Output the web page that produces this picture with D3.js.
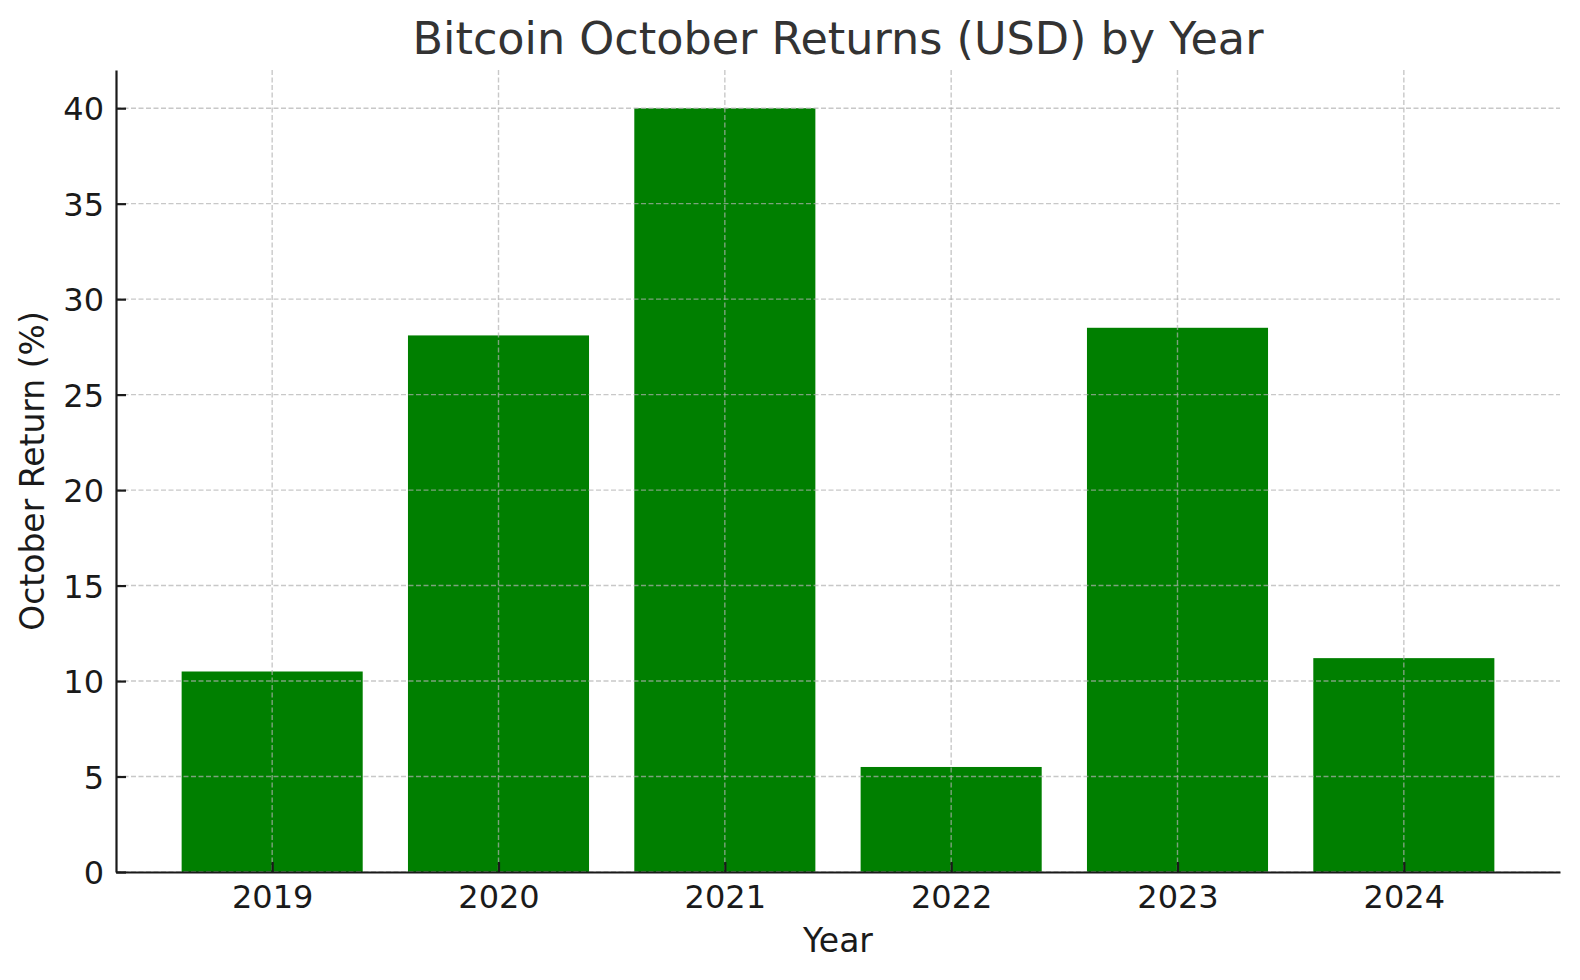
<!DOCTYPE html>
<html>
<head>
<meta charset="utf-8">
<script src="https://cdn.jsdelivr.net/npm/d3@7"></script>
<style>
  body { margin: 0; background: #fff; }
  svg { font-family: "DejaVu Sans", sans-serif; }
</style>
</head>
<body>
<div id="chart"></div>
<script>

    // data
    const years = ["2019", "2020", "2021", "2022", "2023", "2024"];
    const returns = [10.5, 28.1, 40.0, 5.5, 28.5, 11.2];
    const yTicks = [0, 5, 10, 15, 20, 25, 30, 35, 40];

    const width = 1580, height = 980;
    const margin = { left: 116, right: 20, top: 70, bottom: 108 };

    const svg = d3.select("#chart").append("svg")
        .attr("width", width).attr("height", height);

    // matplotlib-like x: bars at integer positions, width 0.8, 5% padding
    const x = d3.scaleLinear()
        .domain([-0.69, years.length - 1 + 0.69])
        .range([margin.left, width - margin.right]);

    const y = d3.scaleLinear()
        .domain([0, 42])
        .range([height - margin.bottom, margin.top]);

    const barW = x(0.8) - x(0);

    // bars
    svg.append("g").selectAll("rect")
        .data(returns)
        .enter().append("rect")
        .attr("x", (d, i) => x(i) - barW / 2)
        .attr("y", d => y(d))
        .attr("width", barW)
        .attr("height", d => y(0) - y(d))
        .attr("fill", "#007f00");

    // grid on top of bars
    const grid = svg.append("g")
        .attr("stroke", "#b0b0b0")
        .attr("stroke-opacity", 0.7)
        .attr("stroke-width", 1.4)
        .attr("stroke-dasharray", "5,2.5");

    grid.selectAll(".hgrid").data(yTicks).enter().append("line")
        .attr("class", "hgrid")
        .attr("x1", margin.left).attr("x2", width - margin.right)
        .attr("y1", d => y(d)).attr("y2", d => y(d));

    grid.selectAll(".vgrid").data(years).enter().append("line")
        .attr("class", "vgrid")
        .attr("x1", (d, i) => x(i)).attr("x2", (d, i) => x(i))
        .attr("y1", margin.top).attr("y2", height - margin.bottom);

    // axes, ticks pointing inward
    const xAxis = d3.axisBottom(x)
        .tickValues(d3.range(years.length))
        .tickFormat(i => years[i])
        .tickSizeInner(-10).tickSizeOuter(0).tickPadding(13);

    const yAxis = d3.axisLeft(y)
        .tickValues(yTicks)
        .tickSizeInner(-10).tickSizeOuter(0).tickPadding(12);

    const gx = svg.append("g")
        .attr("transform", "translate(0," + y(0) + ")")
        .call(xAxis);

    const gy = svg.append("g")
        .attr("transform", "translate(" + margin.left + ",0)")
        .call(yAxis);

    [gx, gy].forEach(g => {
        g.select(".domain").attr("stroke", "#1a1a1a").attr("stroke-width", 2.2);
        g.selectAll(".tick line").attr("stroke", "#1a1a1a").attr("stroke-width", 2.2);
        g.selectAll(".tick text")
            .attr("fill", "#1a1a1a")
            .style("font-size", "32px")
            .style("font-family", "DejaVu Sans");
    });
    gy.selectAll(".tick text").attr("dy", "0.36em");
    gx.selectAll(".tick text").attr("dy", "0.72em");

    // title
    svg.append("text")
        .attr("x", (x.range()[0] + x.range()[1]) / 2)
        .attr("y", 54)
        .attr("text-anchor", "middle")
        .attr("fill", "#333")
        .style("font-size", "44.5px")
        .text("Bitcoin October Returns (USD) by Year");

    // axis labels
    svg.append("text")
        .attr("x", (x.range()[0] + x.range()[1]) / 2)
        .attr("y", 952)
        .attr("text-anchor", "middle")
        .attr("fill", "#1a1a1a")
        .style("font-size", "33px")
        .text("Year");

    svg.append("text")
        .attr("transform", "translate(44," + ((y.range()[0] + y.range()[1]) / 2) + ") rotate(-90)")
        .attr("text-anchor", "middle")
        .attr("fill", "#1a1a1a")
        .style("font-size", "33px")
        .text("October Return (%)");

</script>
</body>
</html>
